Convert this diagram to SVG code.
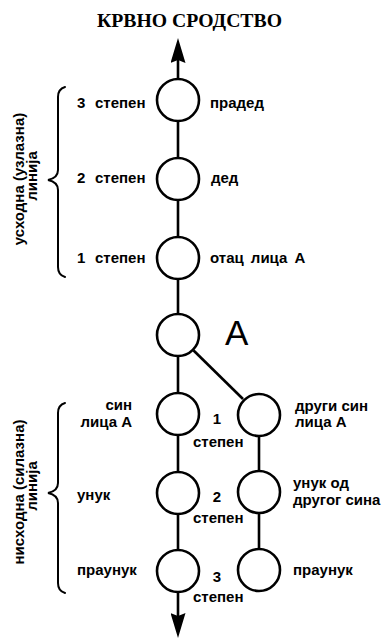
<svg xmlns="http://www.w3.org/2000/svg" width="387" height="639" viewBox="0 0 387 639">
<style>
.n{fill:#fff;stroke:#000;stroke-width:2.6}
.c{stroke:#000;stroke-width:2.6;fill:none}
.b{stroke:#000;stroke-width:2;fill:none;stroke-linecap:round}
.t{font-family:"Liberation Sans",Arial,sans-serif;font-size:15px;font-weight:bold;fill:#000}
.m{text-anchor:middle}
.e{text-anchor:end}
.title{font-family:"Liberation Serif","Times New Roman",serif;font-size:18.5px;font-weight:bold;fill:#000;text-anchor:middle}
.big{font-family:"Liberation Sans",Arial,sans-serif;font-size:35px;fill:#000}
</style>
<defs>
<marker id="arr" markerUnits="userSpaceOnUse" markerWidth="25" markerHeight="15" viewBox="0 0 25 15" refX="3" refY="7.5" orient="auto">
<path d="M0,0 L25,7.5 L0,15 L3,7.5 Z" fill="#000"/>
</marker>
</defs>
<rect width="387" height="639" fill="#fff"/>
<text class="title" x="189.5" y="27" textLength="185" lengthAdjust="spacingAndGlyphs">КРВНО СРОДСТВО</text>

<g id="connectors">
<line class="c" x1="178" y1="79" x2="178" y2="60" marker-end="url(#arr)"/>
<line class="c" x1="178" y1="121" x2="178" y2="158"/>
<line class="c" x1="178" y1="200" x2="178" y2="237"/>
<line class="c" x1="178" y1="279" x2="178" y2="314"/>
<line class="c" x1="178" y1="356" x2="178" y2="393"/>
<line class="c" x1="178" y1="435" x2="178" y2="472"/>
<line class="c" x1="178" y1="514" x2="178" y2="550"/>
<line class="c" x1="178" y1="592" x2="178" y2="616" marker-end="url(#arr)"/>
<line class="c" x1="193.6" y1="350.5" x2="243" y2="399"/>
<line class="c" x1="259" y1="436" x2="259" y2="471"/>
<line class="c" x1="259" y1="513" x2="259" y2="549"/>
</g>

<g id="braces">
<path class="b" d="M65,87 Q58,89 58,97 L58,170 Q58,178 48,180 Q58,182 58,190 L58,267 Q58,275 65,277"/>
<path class="b" d="M65,403 Q58,405 58,413 L58,483 Q58,491 48,493 Q58,495 58,503 L58,583 Q58,591 65,593"/>
<text class="t m" transform="translate(24,179) rotate(-90)">усходна (узлазна)</text>
<text class="t m" transform="translate(37,176) rotate(-90)">линија</text>
<text class="t m" transform="translate(24,492) rotate(-90)">нисходна (силазна)</text>
<text class="t m" transform="translate(37,486) rotate(-90)">линија</text>
</g>

<g id="n-pradjed">
<circle class="n" cx="178" cy="100" r="21"/>
<text class="t" y="108"><tspan x="77">3</tspan><tspan x="95">степен</tspan></text>
<text class="t" x="210" y="108">прадед</text>
</g>
<g id="n-djed">
<circle class="n" cx="178" cy="179" r="21"/>
<text class="t" y="183"><tspan x="77">2</tspan><tspan x="95">степен</tspan></text>
<text class="t" x="211" y="183">дед</text>
</g>
<g id="n-otac">
<circle class="n" cx="178" cy="258" r="21"/>
<text class="t" y="263"><tspan x="77">1</tspan><tspan x="95">степен</tspan></text>
<text class="t" x="210" y="263" word-spacing="3">отац лица А</text>
</g>
<g id="n-A">
<circle class="n" cx="178" cy="335" r="21"/>
<text class="big" x="225" y="345">A</text>
</g>
<g id="n-sin">
<circle class="n" cx="178" cy="414" r="21"/>
<text class="t e" x="132" y="410">син</text>
<text class="t e" x="132" y="427">лица А</text>
<text class="t m" x="217" y="424">1</text>
<text class="t" x="193" y="447">степен</text>
</g>
<g id="n-drugi-sin">
<circle class="n" cx="259" cy="415" r="21"/>
<text class="t" x="295" y="411">други син</text>
<text class="t" x="295" y="427">лица А</text>
</g>
<g id="n-unuk">
<circle class="n" cx="178" cy="493" r="21"/>
<text class="t" x="77" y="500">унук</text>
<text class="t m" x="217" y="502">2</text>
<text class="t" x="193" y="523">степен</text>
</g>
<g id="n-unuk-drugog">
<circle class="n" cx="259" cy="492" r="21"/>
<text class="t" x="293" y="488">унук од</text>
<text class="t" x="293" y="505">другог сина</text>
</g>
<g id="n-praunuk">
<circle class="n" cx="178" cy="571" r="21"/>
<text class="t" x="77" y="575">праунук</text>
<text class="t m" x="217" y="582">3</text>
<text class="t" x="193" y="602">степен</text>
</g>
<g id="n-praunuk2">
<circle class="n" cx="259" cy="570" r="21"/>
<text class="t" x="293" y="575">праунук</text>
</g>
</svg>
